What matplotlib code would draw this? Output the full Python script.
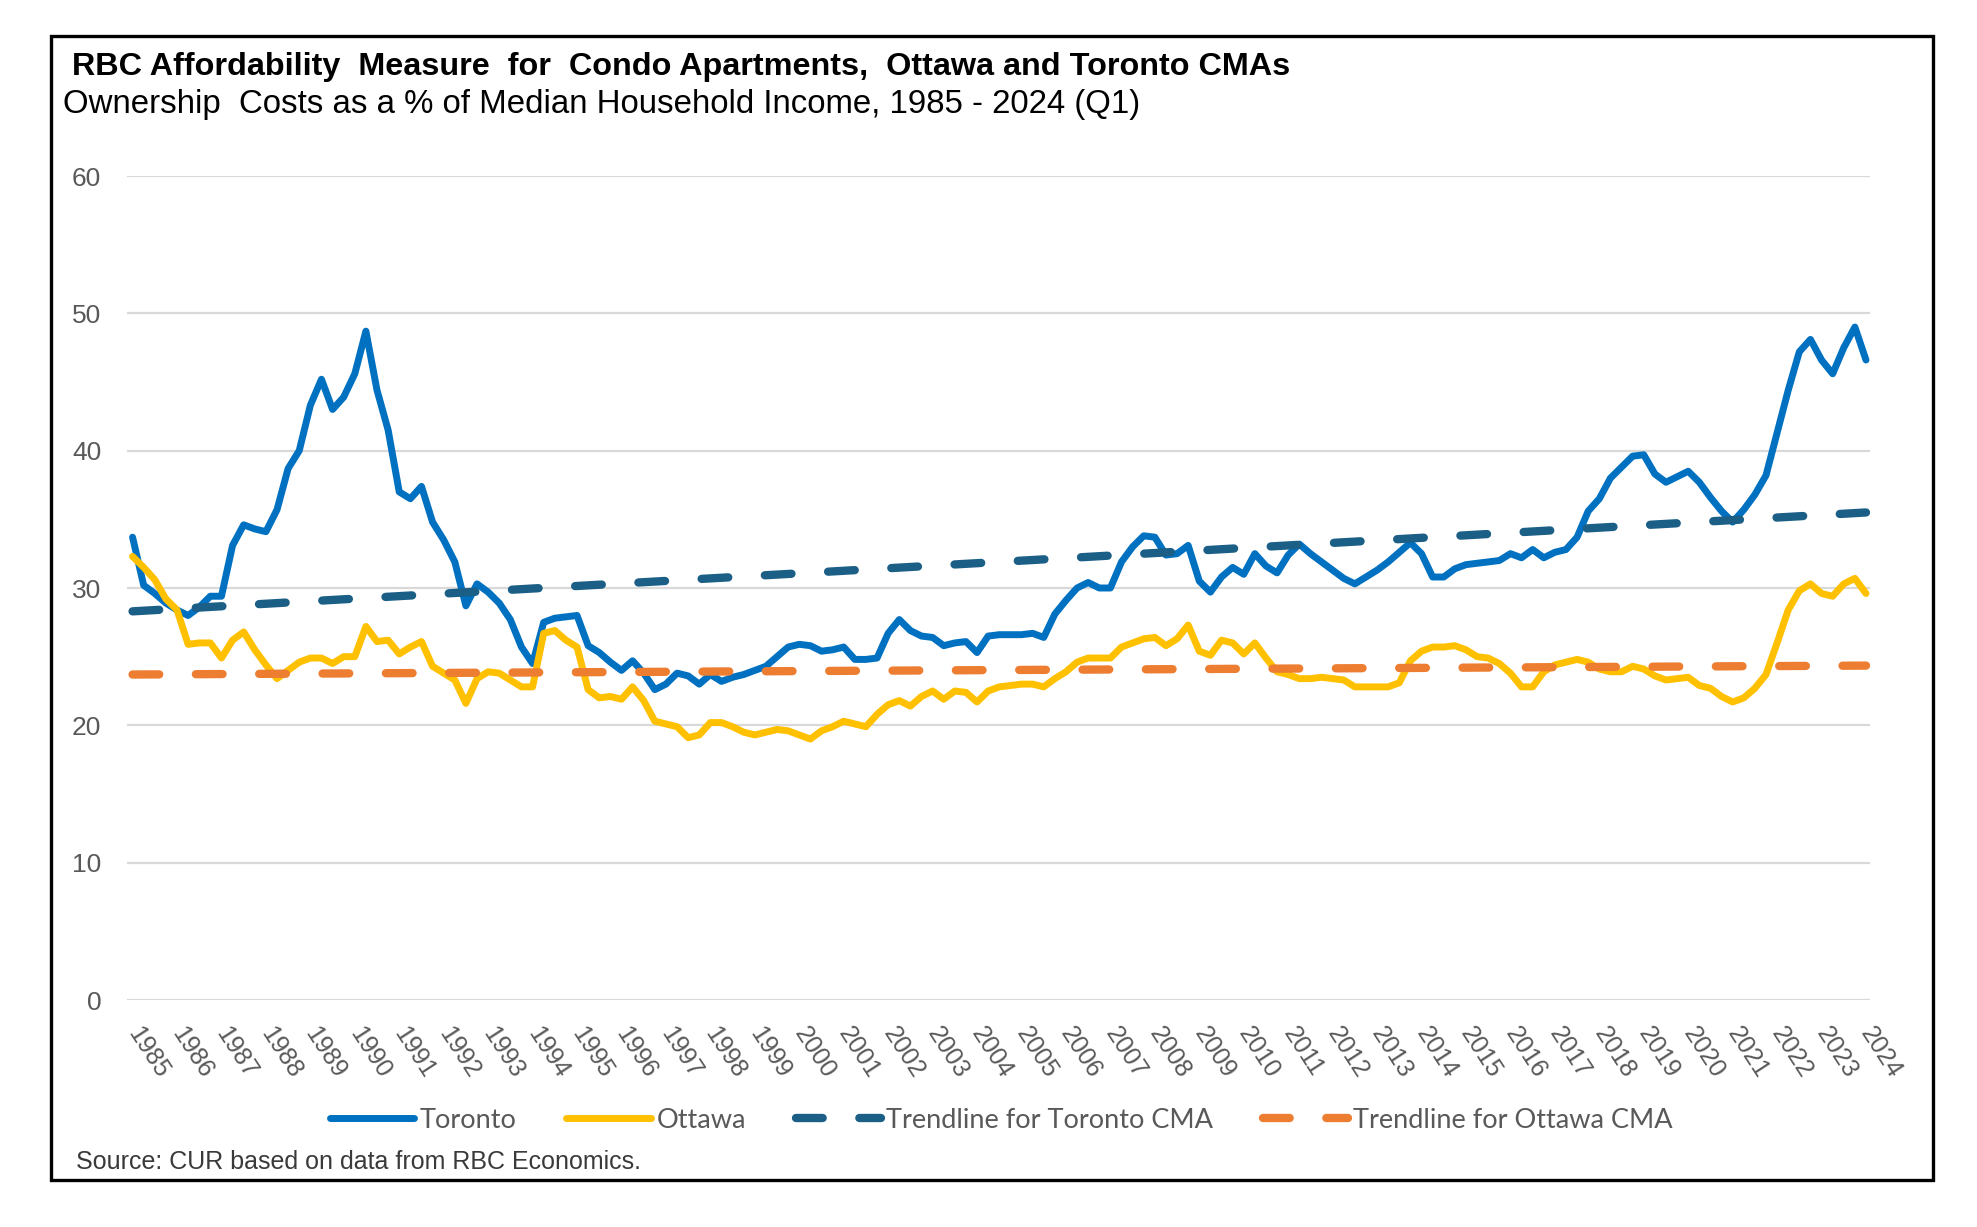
import matplotlib
matplotlib.use("Agg")
import matplotlib.pyplot as plt
from matplotlib.patches import Rectangle
import numpy as np

years = [str(y) for y in range(1985, 2025)]

toronto = [33.7, 30.2, 29.6, 28.9, 28.4, 28.0, 28.6, 29.4, 29.4, 33.1,
           34.6, 34.3, 34.1, 35.7, 38.7, 40.0, 43.3, 45.2, 43.0, 43.9,
           45.6, 48.7, 44.4, 41.5, 37.0, 36.5, 37.4, 34.8, 33.5, 31.9,
           28.7, 30.3, 29.7, 28.9, 27.7, 25.7, 24.5, 27.5, 27.8, 27.9,
           28.0, 25.8, 25.3, 24.6, 24.0, 24.7, 23.8, 22.6, 23.0, 23.8,
           23.6, 23.0, 23.7, 23.2, 23.5, 23.7, 24.0, 24.3, 25.0, 25.7,
           25.9, 25.8, 25.4, 25.5, 25.7, 24.8, 24.8, 24.9, 26.7, 27.7,
           26.9, 26.5, 26.4, 25.8, 26.0, 26.1, 25.3, 26.5, 26.6, 26.6,
           26.6, 26.7, 26.4, 28.1, 29.1, 30.0, 30.4, 30.0, 30.0, 31.9,
           33.0, 33.8, 33.7, 32.4, 32.5, 33.1, 30.5, 29.7, 30.8, 31.5,
           31.0, 32.5, 31.6, 31.1, 32.4, 33.2, 32.5, 31.9, 31.3, 30.7,
           30.3, 30.8, 31.3, 31.9, 32.6, 33.3, 32.5, 30.8, 30.8, 31.4,
           31.7, 31.8, 31.9, 32.0, 32.5, 32.2, 32.8, 32.2, 32.6, 32.8,
           33.7, 35.6, 36.5, 38.0, 38.8, 39.6, 39.7, 38.3, 37.7, 38.1,
           38.5, 37.7, 36.6, 35.6, 34.8, 35.7, 36.8, 38.2, 41.3, 44.4,
           47.2, 48.1, 46.6, 45.6, 47.5, 49.0, 46.6]

ottawa = [32.3, 31.5, 30.6, 29.2, 28.4, 25.9, 26.0, 26.0, 24.9, 26.2,
          26.8, 25.5, 24.4, 23.4, 24.0, 24.6, 24.9, 24.9, 24.5, 25.0,
          25.0, 27.2, 26.1, 26.2, 25.2, 25.7, 26.1, 24.3, 23.8, 23.3,
          21.6, 23.4, 23.9, 23.8, 23.3, 22.8, 22.8, 26.7, 26.9, 26.2,
          25.7, 22.6, 22.0, 22.1, 21.9, 22.8, 21.8, 20.3, 20.1, 19.9,
          19.1, 19.3, 20.2, 20.2, 19.9, 19.5, 19.3, 19.5, 19.7, 19.6,
          19.3, 19.0, 19.6, 19.9, 20.3, 20.1, 19.9, 20.8, 21.5, 21.8,
          21.4, 22.1, 22.5, 21.9, 22.5, 22.4, 21.7, 22.5, 22.8, 22.9,
          23.0, 23.0, 22.8, 23.4, 23.9, 24.6, 24.9, 24.9, 24.9, 25.7,
          26.0, 26.3, 26.4, 25.8, 26.3, 27.3, 25.4, 25.1, 26.2, 26.0,
          25.2, 26.0, 24.9, 23.9, 23.7, 23.4, 23.4, 23.5, 23.4, 23.3,
          22.8, 22.8, 22.8, 22.8, 23.1, 24.7, 25.4, 25.7, 25.7, 25.8,
          25.5, 25.0, 24.9, 24.5, 23.8, 22.8, 22.8, 23.9, 24.4, 24.6,
          24.8, 24.6, 24.1, 23.9, 23.9, 24.3, 24.1, 23.6, 23.3, 23.4,
          23.5, 22.9, 22.7, 22.1, 21.7, 22.0, 22.7, 23.7, 26.0, 28.4,
          29.8, 30.3, 29.6, 29.4, 30.3, 30.7, 29.6]

trend_toronto = [28.3, 35.5]   # start / end of linear trendline
trend_ottawa = [23.7, 24.35]

title = "RBC Affordability  Measure  for  Condo Apartments,  Ottawa and Toronto CMAs"
subtitle = "Ownership  Costs as a % of Median Household Income, 1985 - 2024 (Q1)"
source = "Source: CUR based on data from RBC Economics."

C_TOR = "#0070C0"
C_OTT = "#FFC000"
C_TTR = "#1B5E86"
C_OTR = "#ED7D31"
GRAY = "#595959"

W, H = 1977, 1227
fig = plt.figure(figsize=(W / 100, H / 100), dpi=100)

# outer frame
fig.patches.append(Rectangle((51 / W, 1 - 1180 / H), (1933 - 51) / W, (1180 - 36) / H,
                             transform=fig.transFigure, fill=False, ec="black", lw=2.4))

ax = fig.add_axes([127 / W, 1 - 1000 / H, (1870 - 127) / W, (1000 - 176) / H])
n = len(toronto)
x = np.arange(n)

ax.plot(x, toronto, color=C_TOR, lw=5.0, solid_joinstyle="round", solid_capstyle="round",
        label="Toronto", zorder=3)
ax.plot(x, ottawa, color=C_OTT, lw=5.0, solid_joinstyle="round", solid_capstyle="round",
        label="Ottawa", zorder=3)
tx = [x[0], x[-1]]
ax.plot(tx, trend_toronto, color=C_TTR, lw=6.0, dashes=(3.2, 4.4), dash_capstyle="round",
        label="Trendline for Toronto CMA", zorder=4)
ax.plot(tx, trend_ottawa, color=C_OTR, lw=6.0, dashes=(3.2, 4.4), dash_capstyle="round",
        label="Trendline for Ottawa CMA", zorder=4)

ax.set_xlim(-0.5, n - 1 + 0.36)
ax.set_ylim(0, 60)
ax.set_yticks(range(0, 61, 10))
ax.yaxis.grid(True, color="#D9D9D9", lw=1.6)
ax.set_axisbelow(True)
for s in ax.spines.values():
    s.set_visible(False)
ax.tick_params(axis="y", length=0, pad=18.5, labelsize=19, labelcolor=GRAY)
ax.set_yticklabels([str(v) for v in range(0, 61, 10)], fontfamily="Liberation Sans")

ax.set_xticks(np.arange(0, n, 4))
ax.set_xticklabels(years, rotation=-57, rotation_mode="anchor", ha="left", va="center",
                   fontsize=18, color=GRAY, fontfamily="Liberation Sans")
ax.tick_params(axis="x", length=0, pad=21)

fig.text(72 / W, 1 - 74.5 / H, title, fontsize=23.3, fontweight="bold",
         family="Liberation Sans", va="baseline", ha="left")
fig.text(63 / W, 1 - 113 / H, subtitle, fontsize=23.8,
         family="Liberation Sans", va="baseline", ha="left")
fig.text(76 / W, 1 - 1162 / H, source, fontsize=18, color="#3A3A3A",
         family="Liberation Sans", va="center", ha="left")

leg = fig.legend(loc="center", bbox_to_anchor=(1001 / W, 1 - 1120 / H), ncol=4,
                 frameon=False, handlelength=3.13, handletextpad=0.19, columnspacing=1.85,
                 prop={"family": "Lato", "size": 19.5})
for t in leg.get_texts():
    t.set_color(GRAY)

fig.savefig("out.png", dpi=100)
